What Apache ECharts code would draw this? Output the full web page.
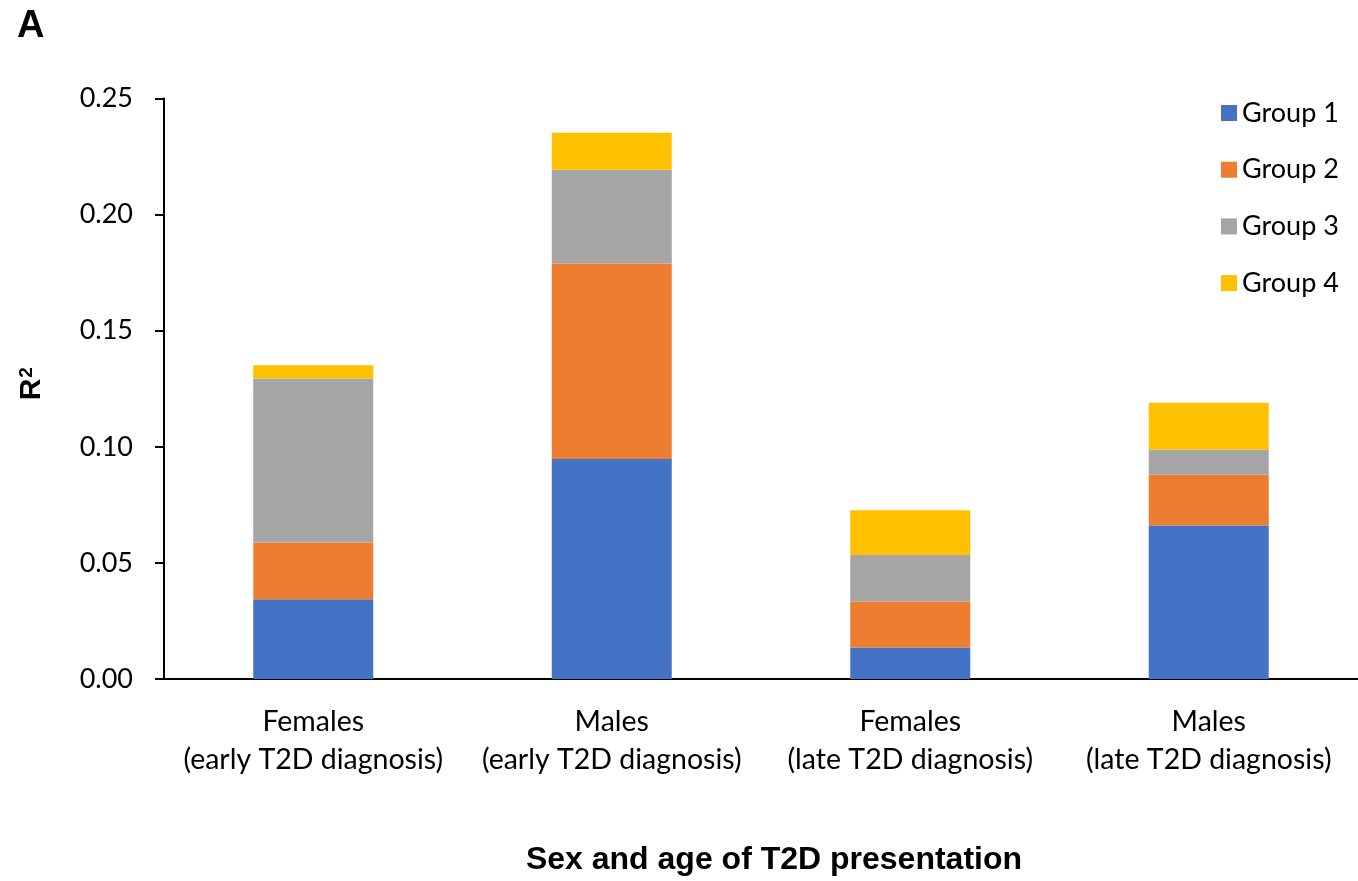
<!DOCTYPE html>
<html>
<head>
<meta charset="utf-8">
<script src="https://cdn.jsdelivr.net/npm/echarts@6/dist/echarts.min.js"></script>
<style>
html,body{margin:0;padding:0;background:#fff;}
#chart{width:1358px;height:881px;}
</style>
</head>
<body>
<div id="chart"></div>
<script>
const categories = [
  'Females\n(early T2D diagnosis)',
  'Males\n(early T2D diagnosis)',
  'Females\n(late T2D diagnosis)',
  'Males\n(late T2D diagnosis)'
];
const seriesNames = ['Group 1', 'Group 2', 'Group 3', 'Group 4'];
const group1 = [0.0343, 0.0947, 0.0136, 0.0661];
const group2 = [0.0245, 0.0842, 0.0198, 0.0219];
const group3 = [0.0706, 0.0404, 0.0200, 0.0108];
const group4 = [0.0057, 0.0159, 0.0193, 0.0202];
const colors = ['#4472C4', '#ED7D31', '#A5A5A5', '#FFC000'];
const yTicks = [0, 0.05, 0.10, 0.15, 0.20, 0.25];

const values = [group1, group2, group3, group4];
const chart = echarts.init(document.getElementById('chart'));
const labelFont = 'Lato';
chart.setOption({
  animation: false,
  backgroundColor: '#fff',
  title: {
    text: 'A',
    left: 17, top: 8, padding: 0,
    textStyle: { fontFamily: 'Liberation Sans', fontWeight: 'bold', fontSize: 38, color: '#000' }
  },
  legend: {
    orient: 'vertical',
    left: 1221, top: 99, padding: 0,
    itemWidth: 16, itemHeight: 16, itemGap: 28.7,
    icon: 'rect',
    data: seriesNames,
    textStyle: { fontFamily: labelFont, fontSize: 27, color: '#000', lineHeight: 28 }
  },
  grid: { left: 164, top: 98.5, width: 1197, height: 581.5, containLabel: false },
  xAxis: {
    type: 'category',
    data: categories,
    name: 'Sex and age of T2D presentation',
    nameLocation: 'middle',
    nameGap: 165,
    nameTextStyle: { fontFamily: 'Liberation Sans', fontWeight: 'bold', fontSize: 32, color: '#000', padding: [0, 0, 0, 26] },
    axisLine: { lineStyle: { color: '#000', width: 2 } },
    axisTick: { show: false },
    axisLabel: { fontFamily: labelFont, fontSize: 28.5, color: '#000', lineHeight: 38, margin: 24, interval: 0 }
  },
  yAxis: {
    type: 'value',
    min: 0, max: 0.25, interval: 0.05,
    name: '{r|R}{s|2}',
    nameLocation: 'middle',
    nameRotate: 90,
    nameGap: 117,
    nameTextStyle: {
      fontFamily: 'Liberation Sans', fontWeight: 'bold', color: '#000', padding: [0, 0, 0, 10],
      rich: {
        r: { fontFamily: 'Liberation Sans', fontWeight: 'bold', fontSize: 30, lineHeight: 30, color: '#000' },
        s: { fontFamily: 'Liberation Sans', fontWeight: 'bold', fontSize: 19, lineHeight: 19, verticalAlign: 'top', color: '#000', padding: [0, 0, 0, 1] }
      }
    },
    axisLine: { show: true, lineStyle: { color: '#000', width: 2 } },
    axisTick: { show: true, length: 9, lineStyle: { color: '#000', width: 2 } },
    splitLine: { show: false },
    axisLabel: {
      fontFamily: labelFont, fontSize: 27, color: '#000', margin: 31,
      formatter: v => v.toFixed(2)
    }
  },
  series: seriesNames.map((n, i) => ({
    name: n,
    type: 'bar',
    stack: 'total',
    barWidth: 120,
    itemStyle: { color: colors[i] },
    data: values[i]
  }))
});
</script>
</body>
</html>
